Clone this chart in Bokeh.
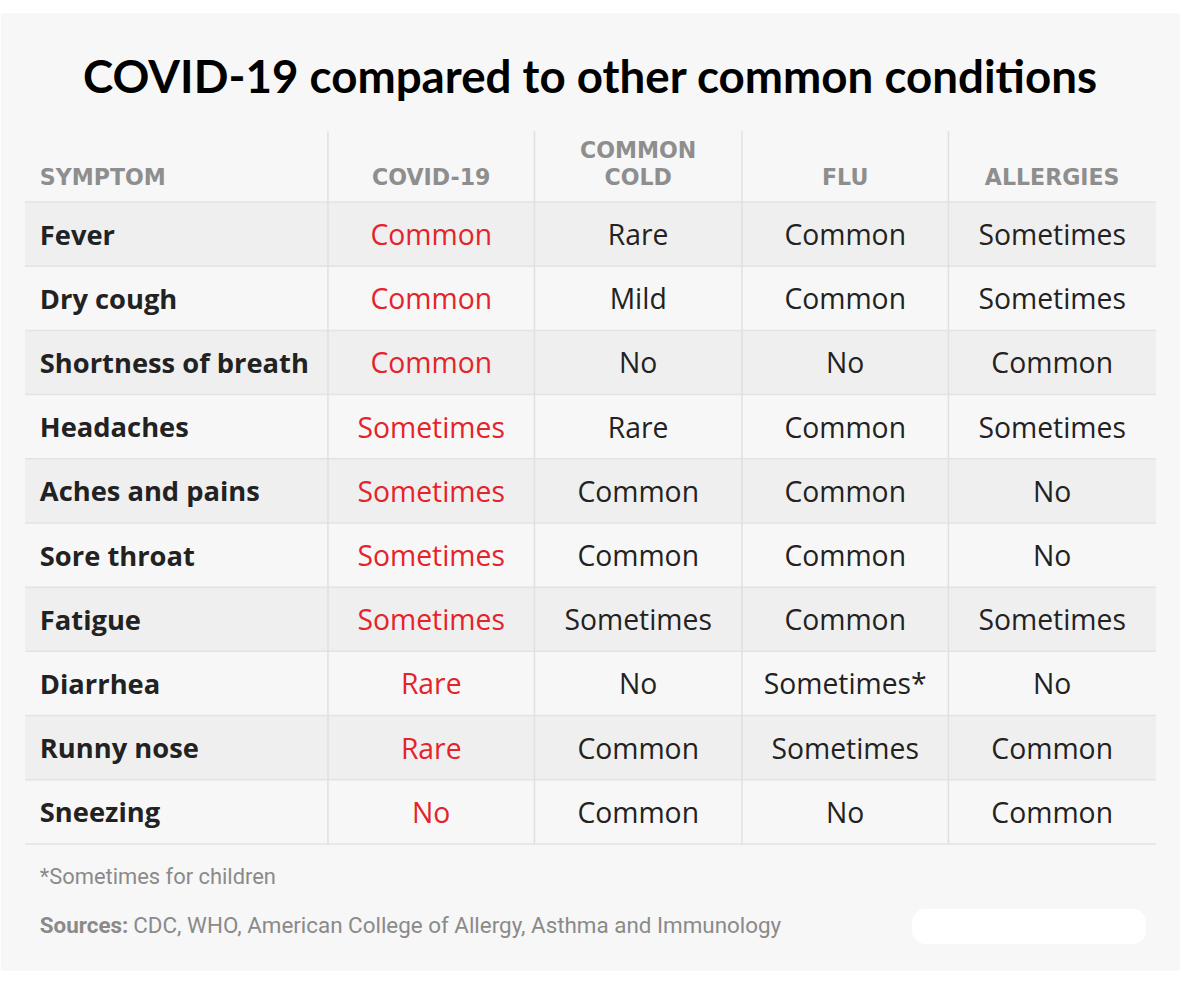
from bokeh.plotting import figure
from bokeh.models import Range1d
from bokeh.core.properties import value
from bokeh.embed import file_html
from bokeh.resources import INLINE

# ---------------- data ----------------
title = "COVID-19 compared to other common conditions"
header_lines = [["SYMPTOM"], ["COVID-19"], ["COMMON", "COLD"], ["FLU"], ["ALLERGIES"]]
symptoms = ["Fever", "Dry cough", "Shortness of breath", "Headaches", "Aches and pains",
            "Sore throat", "Fatigue", "Diarrhea", "Runny nose", "Sneezing"]
covid = ["Common", "Common", "Common", "Sometimes", "Sometimes",
         "Sometimes", "Sometimes", "Rare", "Rare", "No"]
cold = ["Rare", "Mild", "No", "Rare", "Common",
        "Common", "Sometimes", "No", "Common", "Common"]
flu = ["Common", "Common", "No", "Common", "Common",
       "Common", "Common", "Sometimes*", "Sometimes", "No"]
allergies = ["Sometimes", "Sometimes", "Common", "Sometimes", "No",
             "No", "Sometimes", "No", "Common", "Common"]
footnote = "*Sometimes for children"
sources_label = "Sources:"
sources_text = "CDC, WHO,  American College of Allergy, Asthma and Immunology"

# ---------------- layout (reference pixel space) ----------------
REF_W, REF_H = 1200, 1000
W, H = 1180, 983
s = W / REF_W
def fs(px):
    return f"{px * s:.1f}px"

TITLE_FONT = "Lato"
BODY_FONT = "Open Sans"
HEAD_FONT = "DejaVu Sans"
FOOT_FONT = "Roboto"

p = figure(width=W, height=H, output_backend="svg", toolbar_location=None,
           x_range=Range1d(0, REF_W), y_range=Range1d(REF_H, 0),
           min_border=0, border_fill_color="white", background_fill_color="white")
p.axis.visible = False
p.grid.visible = False
p.outline_line_color = None

# panel
p.quad(left=[0], right=[REF_W], top=[13], bottom=[987], fill_color="#f7f7f7", line_color=None)

table_left, table_right = 25, 1175
col_edges = [25, 333, 543, 754, 964, 1175]
header_top = 133
row_top0 = 205
row_h = 65.3
n = len(symptoms)

tops = [row_top0 + i * row_h for i in range(n)]
bottoms = [t + row_h for t in tops]
centers = [t + row_h / 2 for t in tops]

# stripes
st = [i for i in range(n) if i % 2 == 0]
p.quad(left=[table_left] * len(st), right=[table_right] * len(st),
       top=[tops[i] for i in st], bottom=[bottoms[i] for i in st],
       fill_color="#efefef", line_color=None)

# horizontal separators
ys = [row_top0] + bottoms
p.segment(x0=[table_left] * len(ys), x1=[table_right] * len(ys), y0=ys, y1=ys,
          line_color="#e3e3e3", line_width=1.5)
# vertical separators
vx = col_edges[1:-1]
p.segment(x0=vx, x1=vx, y0=[header_top] * len(vx), y1=[bottoms[-1]] * len(vx),
          line_color="#e0e0e0", line_width=1.5)

# title
p.text(x=[600], y=[76], text=[title], text_align="center", text_baseline="middle",
       text_font=value(TITLE_FONT), text_font_style="bold", text_font_size=fs(46.5),
       text_color="#000000")

# headers
col_centers = [(col_edges[i] + col_edges[i + 1]) / 2 for i in range(5)]
hx, hy, ht, ha = [], [], [], []
for ci, lines in enumerate(header_lines):
    nl = len(lines)
    for li, line in enumerate(lines):
        hx.append(40 if ci == 0 else col_centers[ci])
        hy.append(180 - (nl - 1 - li) * 28)
        ht.append(line)
        ha.append("left" if ci == 0 else "center")
p.text(x=hx, y=hy, text=ht, text_align=ha, text_baseline="middle",
       text_font=value(HEAD_FONT), text_font_style="bold", text_font_size=fs(22.5),
       text_color="#8e8e8e")

# symptom names
p.text(x=[40] * n, y=centers, text=symptoms, text_align="left", text_baseline="middle",
       text_font=value(BODY_FONT), text_font_style="bold", text_font_size=fs(27.8),
       text_color="#222222")

# values
for ci, (vals, color) in enumerate([(covid, "#e5232a"), (cold, "#222222"),
                                    (flu, "#222222"), (allergies, "#222222")]):
    p.text(x=[col_centers[ci + 1]] * n, y=centers, text=vals, text_align="center",
           text_baseline="middle", text_font=value(BODY_FONT), text_font_style="normal",
           text_font_size=fs(28.8), text_color=color)

# footnotes
p.text(x=[40], y=[891], text=[footnote], text_align="left", text_baseline="middle",
       text_font=value(FOOT_FONT), text_font_size=fs(22.3), text_color="#8a8a8a")
p.text(x=[40], y=[940], text=[sources_label], text_align="left", text_baseline="middle",
       text_font=value(FOOT_FONT), text_font_style="bold", text_font_size=fs(22.8),
       text_color="#8a8a8a")
p.text(x=[135], y=[940], text=[sources_text], text_align="left", text_baseline="middle",
       text_font=value(FOOT_FONT), text_font_size=fs(22.8), text_color="#8a8a8a")

# erased patch (white blob) bottom right
p.quad(left=[927], right=[1165], top=[924], bottom=[960], fill_color="white", line_color=None,
       border_radius=14)

open("out.html", "w").write(file_html(p, INLINE))
